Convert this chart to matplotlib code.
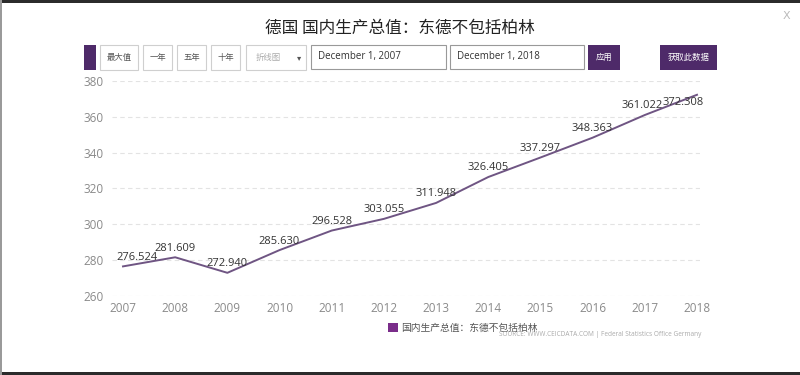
import matplotlib
matplotlib.use("Agg")
import matplotlib.pyplot as plt
from matplotlib.patches import Rectangle
import numpy as np

plt.rcParams['font.family'] = ['Noto Sans CJK SC', 'DejaVu Sans']

# data
years = [2007, 2008, 2009, 2010, 2011, 2012, 2013, 2014, 2015, 2016, 2017, 2018]
gdp = [276.524, 281.609, 272.940, 285.630, 296.528, 303.055, 311.948,
       326.405, 337.297, 348.363, 361.022, 372.308]
y_ticks = [260, 280, 300, 320, 340, 360, 380]
title = "德国 国内生产总值：东德不包括柏林"
series_name = "国内生产总值：东德不包括柏林"
buttons = ["最大值", "一年", "五年", "十年"]
start_date = "December 1, 2007"
end_date = "December 1, 2018"

W, H = 800, 375
purple = "#4e2a69"
line_col = "#6f5583"
grey_txt = "#8a8a8a"

fig = plt.figure(figsize=(8, 3.75), dpi=100)
fig.patch.set_facecolor("white")


def box(x, y, w, h, fc="white", ec="#cfcfcf", lw=0.8):
    # pixel box with top-left origin
    fig.patches.append(Rectangle((x / W, 1 - (y + h) / H), w / W, h / H,
                                 transform=fig.transFigure, fc=fc, ec=ec, lw=lw))


def ftext(x, y, s, **kw):
    fig.text(x / W, 1 - y / H, s, **kw)


# dark strips of the page behind the modal
box(0, 0, 800, 3, fc="#2b2b2b", ec="none")
box(0, 372, 800, 3, fc="#2b2b2b", ec="none")
box(0, 0, 2, 375, fc="#9a9a9a", ec="none")

ftext(400, 28, title, ha="center", va="center", fontsize=12, color="#222222")
ftext(786, 16, "X", ha="center", va="center", fontsize=8, color="#bbbbbb",
      family="DejaVu Sans")

# toolbar
box(84, 45, 12, 25, fc=purple, ec="none")
bx = [100, 143, 177, 211]
bw = [38, 29, 29, 29]
for x, w, lab in zip(bx, bw, buttons):
    box(x, 45, w, 25)
    ftext(x + w / 2, 57.5, lab, ha="center", va="center", fontsize=6, color="#555555")
box(246, 45, 60, 25)
ftext(256, 57.5, "折线图", ha="left", va="center", fontsize=6, color="#aaaaaa")
ftext(299, 57.5, "▾", ha="center", va="center", fontsize=6, color="#555555",
      family="DejaVu Sans")
box(311, 45, 135, 24, ec="#999999")
ftext(318, 57, start_date, ha="left", va="center", fontsize=7, color="#333333",
      family="Open Sans")
box(450, 45, 134, 24, ec="#999999")
ftext(457, 57, end_date, ha="left", va="center", fontsize=7, color="#333333",
      family="Open Sans")
box(588, 45, 32, 25, fc=purple, ec="none")
ftext(604, 57.5, "应用", ha="center", va="center", fontsize=6, color="white")
box(660, 45, 57, 25, fc=purple, ec="none")
ftext(688.5, 57.5, "获取此数据", ha="center", va="center", fontsize=6, color="white")

# chart
step = (697 - 123) / 11
ax = fig.add_axes([(123 - 11) / W, (375 - 296) / H, (574 + 14) / W, 215 / H])
ax.set_xlim(2007 - 11 / step, 2018 + 3 / step)
ax.set_ylim(260, 380)
ax.plot(years, gdp, color=line_col, lw=1.4, clip_on=False, zorder=3)
for spine in ax.spines.values():
    spine.set_visible(False)
ax.set_yticks(y_ticks)
ax.set_xticks(years)
ax.tick_params(length=0, colors=grey_txt, labelsize=8.5)
ax.tick_params(axis="y", pad=6)
ax.tick_params(axis="x", pad=4)
for lab in ax.get_xticklabels() + ax.get_yticklabels():
    lab.set_family("Open Sans")
ax.grid(axis="y", color="#e3e3e3", ls=(0, (4, 3)), lw=0.8)
ax.set_axisbelow(True)

n = len(years)
for i, (x, v) in enumerate(zip(years, gdp)):
    dx, dy = 0, 6.5
    if i == 0:
        dx = 10
    elif i == n - 2:
        dx = -2
    elif i == n - 1:
        dx, dy = -10, -5.5
    ax.annotate(f"{v:.3f}", (x, v), xytext=(dx, dy), textcoords="offset points",
                ha="center", va="center", fontsize=8, color="#333333",
                family="Open Sans", zorder=4)

# legend and source
box(388, 323, 10, 9, fc="#7a2d8a", ec="none")
ftext(401, 327.5, series_name, ha="left", va="center", fontsize=7, color="#555555")
ftext(701, 334, "SOURCE: WWW.CEICDATA.COM | Federal Statistics Office Germany",
      ha="right", va="center", fontsize=4.7, color="#aaaaaa", family="Open Sans")

fig.savefig("out.png", dpi=100, facecolor="white")
